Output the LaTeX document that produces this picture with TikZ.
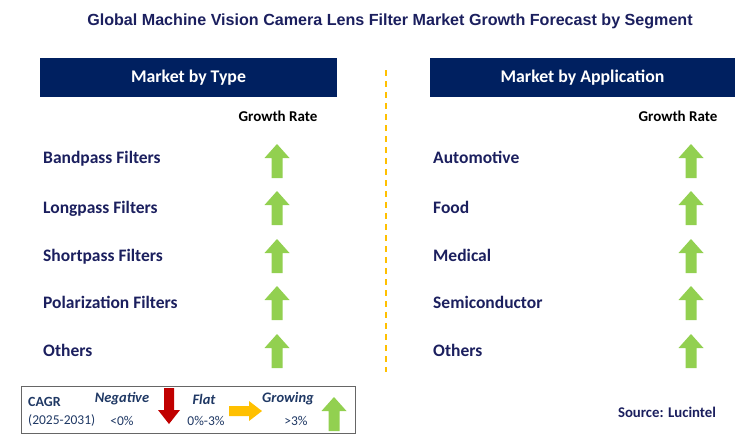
\documentclass[tikz,border=0pt]{standalone}
\usepackage{fontspec}
\setmainfont{Carlito}
\newfontfamily\arialfont{Liberation Sans}
\definecolor{navy}{HTML}{002060}
\definecolor{txtnavy}{HTML}{1B1F5E}
\definecolor{upgreen}{HTML}{92D050}
\definecolor{downred}{HTML}{C00000}
\definecolor{flatyel}{HTML}{FFC000}
\definecolor{legblue}{HTML}{1F3864}
\tikzset{
  hdr/.style={fill=navy, text=white, font=\bfseries\fontsize{17.8}{20}\selectfont, minimum width=297pt, minimum height=39pt, inner sep=0pt},
  item/.style={anchor=base west, text=txtnavy, font=\bfseries\fontsize{17.5}{20}\selectfont, inner sep=0pt},
  grate/.style={font=\bfseries\fontsize{15}{17}\selectfont, inner sep=0pt},
  uparrow/.pic={\fill[upgreen] (-12.5,0) -- (0,-14) -- (12.5,0) -- (5.5,0) -- (5.5,20) -- (-5.5,20) -- (-5.5,0) -- cycle;},
  downarrow/.pic={\fill[downred] (-11,0) -- (0,14) -- (11,0) -- (5,0) -- (5,-22) -- (-5,-22) -- (-5,0) -- cycle;},
  rightarrow/.pic={\fill[flatyel] (0,-10) -- (13,0) -- (0,10) -- (0,5) -- (-20,5) -- (-20,-5) -- (0,-5) -- cycle;},
  legtxt/.style={text=legblue, inner sep=0pt, font=\fontsize{13.5}{15}\selectfont},
  legit/.style={text=legblue, inner sep=0pt, font=\bfseries\itshape\fontsize{14.5}{16}\selectfont},
}
\begin{document}
\begin{tikzpicture}[x=1pt,y=-1pt]
\useasboundingbox (0,0) rectangle (745,447);
\node[text=txtnavy, font=\arialfont\bfseries\fontsize{16.1}{19}\selectfont, inner sep=0pt] (title) at (390,21) {Global Machine Vision Camera Lens Filter Market Growth Forecast by Segment};
\node[hdr] (h1) at (188.5,77.5) {Market by Type};
\node[hdr, minimum width=305pt] (h2) at (582.5,77.5) {Market by Application};
\coordinate (dtop) at (386,70);
\coordinate (dbot) at (386,372);
\draw[flatyel, line width=1.5pt, dash pattern=on 6pt off 5pt] (dtop) -- (dbot);
\node[grate] (g1) at (278,116) {Growth Rate};
\node[grate] (g2) at (678,116) {Growth Rate};
% left items
\node[item] (l1) at (43,163) {Bandpass Filters};
\node[item] (l2) at (43,213) {Longpass Filters};
\node[item] (l3) at (43,261) {Shortpass Filters};
\node[item] (l4) at (43,308) {Polarization Filters};
\node[item] (l5) at (43,356) {Others};
\node[item] (r1) at (433,163) {Automotive};
\node[item] (r2) at (433,213) {Food};
\node[item] (r3) at (433,261) {Medical};
\node[item] (r4) at (433,308) {Semiconductor};
\node[item] (r5) at (433,356) {Others};
\foreach \y in {158,205,253,300,348} {
  \pic at (277,\y) {uparrow};
  \pic at (691,\y) {uparrow};
}
% legend
\node[draw=gray!80!black, line width=1pt, minimum width=334pt, minimum height=47pt, inner sep=0pt] (leg) at (188,409.5) {};
\node[legtxt, font=\bfseries\fontsize{14}{16}\selectfont, anchor=west] (cagr) at (28,402) {CAGR};
\node[legtxt, anchor=west] (yrs) at (28,420) {(2025-2031)};
\node[legit] (neg) at (122,399) {Negative};
\node[legtxt] (negv) at (122,421) {<0\%};
\pic at (169,410) {downarrow};
\node[legit] (flat) at (204,399) {Flat};
\node[legtxt] (flatv) at (206,421) {0\%-3\%};
\pic at (249,411) {rightarrow};
\node[legit] (grow) at (288,399) {Growing};
\node[legtxt] (growv) at (296,421) {>3\%};
\pic at (334,411) {uparrow};
\node[text=txtnavy, font=\bfseries\fontsize{14.8}{17}\selectfont, inner sep=0pt] (src) at (667,412) {Source: Lucintel};
\end{tikzpicture}
\end{document}
